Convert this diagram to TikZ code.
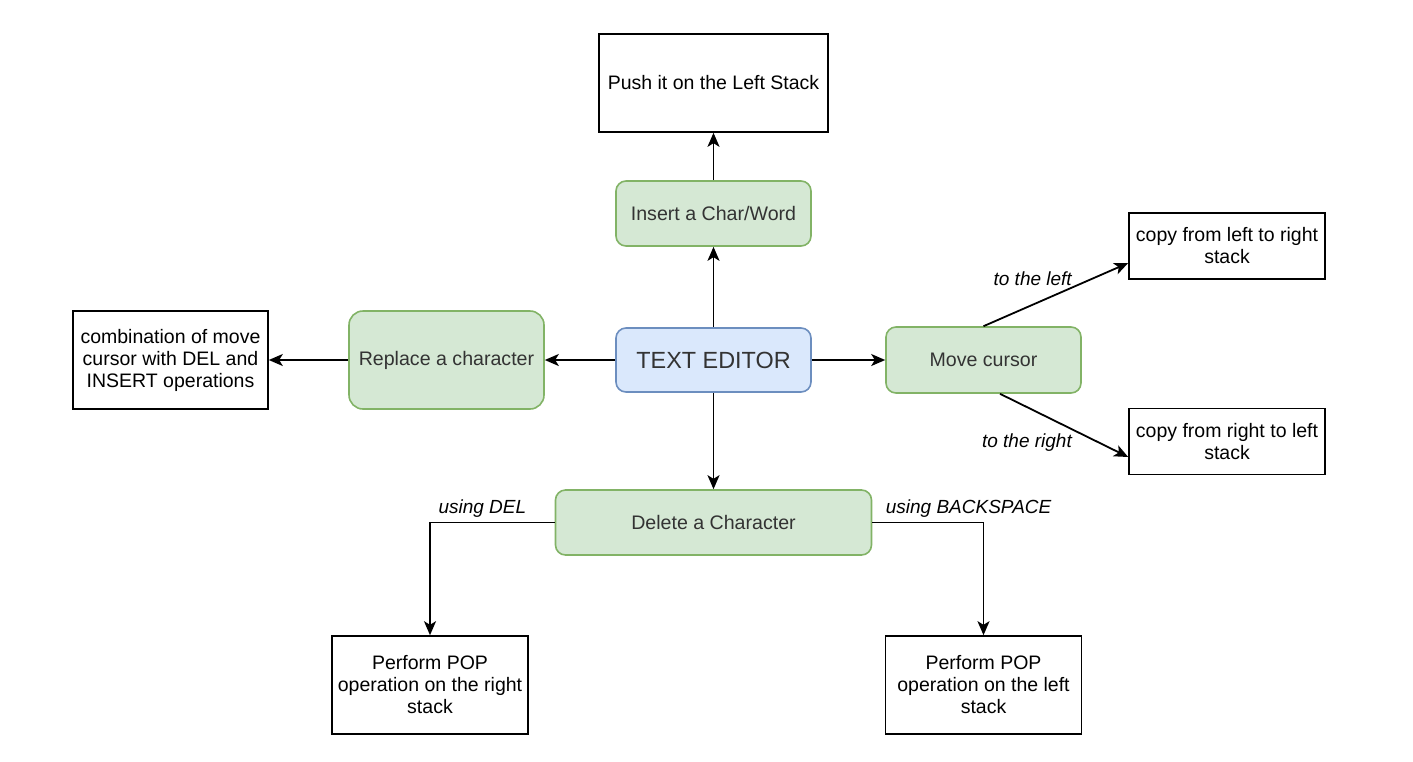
\documentclass[tikz,border=0pt]{standalone}
\usepackage{fontspec}
\setmainfont{Liberation Sans}
\usetikzlibrary{arrows.meta}
\definecolor{greenFill}{HTML}{D5E8D4}
\definecolor{greenLine}{HTML}{82B366}
\definecolor{blueFill}{HTML}{DAE8FC}
\definecolor{blueLine}{HTML}{6C8EBF}
\definecolor{softText}{HTML}{333333}
\tikzstyle{diagram} = [x = .5pt, y = -.5pt]
\tikzstyle{plainBox} = [draw=black, fill=white, line width=.8pt, align=center, inner sep=0pt, font=\fontsize{9.75}{11}\selectfont]
\tikzstyle{actionBox} = [draw=greenLine, fill=greenFill, line width=.8pt, rounded corners=5pt, text=softText, inner sep=0pt, font=\fontsize{9.8}{12}\selectfont]
\tikzstyle{editorBox} = [draw=blueLine, fill=blueFill, line width=.8pt, rounded corners=5pt, text=softText, inner sep=0pt, font=\fontsize{11.7}{14}\selectfont]
\tikzstyle{flowLine} = [draw=black, line width=.9pt, -{Stealth[length=7pt, width=6pt, inset=1.8pt]}]
\tikzstyle{flowLabel} = [font=\fontsize{9.5}{11}\selectfont\itshape, inner sep=0pt]
\newcommand{\boxNode}[6]{\node [#1, minimum width=#4, minimum height=#5] (#2) at (#3) {#6};}

\begin{document}
\begin{tikzpicture}[diagram]
  \useasboundingbox (0,0) rectangle (1413,761);

  % centre column
  \boxNode{plainBox}{push}{713.5,83}{114.5pt}{49pt}{Push it on the Left Stack}
  \boxNode{actionBox}{insert}{713.5,213.5}{97.5pt}{32.5pt}{Insert a Char/Word}
  \boxNode{editorBox}{editor}{713.5,360}{97.5pt}{32pt}{TEXT EDITOR}
  \boxNode{actionBox}{delete}{713.5,522.5}{158pt}{32.5pt}{Delete a Character}

  % left side
  \boxNode{actionBox, rounded corners=7pt}{replace}{446.5,360}{97.5pt}{49pt}{Replace a character}
  \boxNode{plainBox}{combo}{170.5,360}{97.5pt}{49pt}{combination of move\\cursor with DEL and\\INSERT operations}

  % right side
  \boxNode{actionBox}{move}{983.5,360}{97.5pt}{33pt}{Move cursor}
  \boxNode{plainBox}{copyLeft}{1227,246}{98pt}{33pt}{copy from left to right\\stack}
  \boxNode{plainBox}{copyRight}{1227,441.5}{98pt}{33pt}{copy from right to left\\stack}

  % bottom row
  \boxNode{plainBox}{popRight}{430,685}{98pt}{49pt}{Perform POP\\operation on the right\\stack}
  \boxNode{plainBox}{popLeft}{983.5,685}{98pt}{49pt}{Perform POP\\operation on the left\\stack}

  \draw [flowLine] (editor) -- (insert);
  \draw [flowLine] (insert) -- (push);
  \draw [flowLine] (editor) -- (replace);
  \draw [flowLine] (replace) -- (combo);
  \draw [flowLine] (editor) -- (move);
  \draw [flowLine] (editor) -- (delete);
  \draw [flowLine] (move.north) -- ([yshift=-8.5pt]copyLeft.west)
    node [flowLabel, pos=.34, yshift=13pt] {to the left};
  \draw [flowLine] ([xshift=8.25pt]move.south) -- ([yshift=-7.75pt]copyRight.west)
    node [flowLabel, pos=.21, yshift=-18pt] {to the right};
  \draw [flowLine] (delete.west) -| (popRight.north)
    node [flowLabel, pos=.29, yshift=7pt] {using DEL};
  \draw [flowLine] (delete.east) -| (popLeft.north)
    node [flowLabel, pos=.433, yshift=7pt] {using BACKSPACE};
\end{tikzpicture}
\end{document}
